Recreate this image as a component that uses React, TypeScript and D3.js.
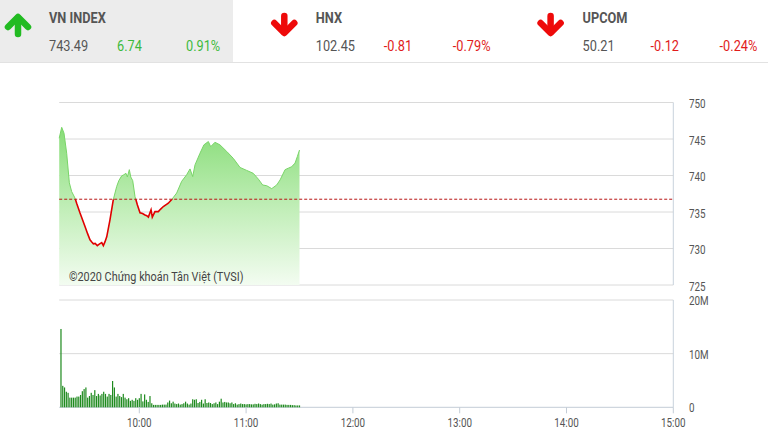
import React from "react";
import * as d3 from "d3";

// ---------- data ----------
const indexNames = ["VN INDEX", "HNX", "UPCOM"];
const indexValues = ["743.49", "102.45", "50.21"];
const indexChanges = ["6.74", "-0.81", "-0.12"];
const indexPercents = ["0.91%", "-0.79%", "-0.24%"];
const indexUp = [true, false, false];

const referencePrice = 736.75;
const priceTicks = [750, 745, 740, 735, 730, 725];
const volumeTicks = [20, 10, 0];
const volumeTickLabels = ["20M", "10M", "0"];
const timeTickLabels = ["10:00", "11:00", "12:00", "13:00", "14:00", "15:00"];
const sessionStart = "09:15";
const sessionEnd = "15:00";
const watermark = "©2020 Chứng khoán Tân Việt (TVSI)";

// minutes after 09:15
const priceMinutes = [
  0, 1.4, 2.7, 4.2, 5.7, 7, 8.9, 9.8, 11.7, 13, 14.5, 16, 17.3, 18.3, 19.2, 20.2, 21.4, 22.5, 23.9,
  24.8, 25.7, 26.7, 28.5, 30.4, 32.3, 33.5, 35.1, 36.3, 37.5, 38.3, 39.4, 40.2, 41.3, 42.6, 43.9,
  45.4, 46.8, 48.2, 49.2, 50.1, 51.6, 52.3, 53.8, 55.7, 57, 58.5, 61.3, 63.2, 66, 68.8, 71.6, 73.5,
  75, 76.3, 79.1, 81.3, 83.8, 85.1, 87.5, 90.3, 94.1, 97.8, 101.6, 105.3, 109, 111.9, 114.3, 116.6,
  119.4, 122.2, 124.1, 126.9, 128.7, 130.6, 132.5, 133.8, 135,
];
const priceValues = [
  745.1, 746.6, 745.8, 743.05, 739.0, 737.8, 736.9, 736.2, 734.85, 734.0, 733.0, 732.0, 731.2, 730.9,
  730.65, 730.7, 730.4, 730.6, 730.8, 730.4, 730.9, 731.6, 733.9, 736.7, 738.5, 739.3, 739.95, 740.1,
  740.3, 739.8, 740.8, 739.8, 739.3, 737.1, 736.0, 734.9, 734.8, 734.6, 734.5, 734.3, 735.3, 734.3,
  735.05, 735.05, 735.4, 735.75, 736.2, 736.7, 737.6, 739.2, 740.1, 740.9, 739.85, 741.45, 743.05,
  744.2, 744.65, 743.95, 744.55, 744.2, 743.3, 742.35, 741.1, 740.7, 740.3, 739.5, 738.7, 738.6,
  738.2, 738.7, 739.4, 740.8, 741.0, 741.2, 741.7, 742.6, 743.49,
];

// volume in millions, one bar per minute starting 09:16
const volumeValues = [
  14.6, 4.0, 3.7, 2.9, 2.7, 1.8, 1.8, 1.8, 1.8, 2.0, 2.0, 2.3, 3.0, 3.4, 3.7, 1.8, 2.1, 2.7, 2.3, 3.2,
  2.1, 2.5, 2.2, 2.5, 2.9, 2.5, 2.0, 2.5, 2.3, 4.9, 3.7, 2.0, 2.5, 2.1, 1.9, 2.5, 1.8, 1.5, 1.7, 1.2,
  1.4, 1.2, 1.7, 1.4, 1.7, 2.5, 1.1, 2.4, 1.4, 1.0, 2.1, 0.75, 0.45, 0.45, 0.45, 0.45, 0.45, 0.5, 0.5,
  0.5, 0.9, 1.25, 0.75, 1.05, 0.7, 0.6, 0.7, 0.5, 0.6, 0.75, 1.05, 0.7, 0.5, 0.7, 1.5, 1.4, 1.5, 0.8,
  1.0, 1.4, 0.7, 1.5, 0.8, 0.9, 0.8, 0.6, 0.75, 0.9, 0.6, 1.05, 1.6, 0.9, 1.0, 0.9, 0.9, 0.75, 0.9,
  0.6, 0.75, 0.5, 0.6, 0.7, 0.6, 0.6, 0.55, 0.6, 0.6, 0.55, 0.55, 0.65, 0.6, 0.7, 0.6, 0.5, 0.6, 0.6,
  0.65, 0.6, 0.7, 0.5, 0.55, 0.7, 0.75, 0.5, 0.5, 0.5, 0.5, 0.45, 0.45, 0.45, 0.4, 0.4, 0.35, 0.35,
  0.35,
];

// ---------- helpers ----------
const toMin = (s: string) => {
  const [h, m] = s.split(":").map(Number);
  return h * 60 + m;
};
const startMin = toMin(sessionStart);

const FONT = "Roboto, 'Noto Sans', sans-serif";
const GREEN = "#3cba3c";
const RED = "#e11b1b";
const GRAY = "#555";

function CText(props: {
  x: number;
  y: number;
  size: number;
  fill: string;
  weight?: number | string;
  anchor?: string;
  sx?: number;
  children: React.ReactNode;
}) {
  const sx = props.sx ?? 0.85;
  return (
    <text
      transform={`translate(${props.x},${props.y}) scale(${sx},1)`}
      fontFamily={FONT}
      fontSize={props.size}
      fontWeight={props.weight ?? 400}
      fill={props.fill}
      textAnchor={props.anchor ?? "start"}
    >
      {props.children}
    </text>
  );
}

export default function App() {
  const W = 768;
  const H = 437;

  const x = d3
    .scaleLinear()
    .domain([0, toMin(sessionEnd) - startMin])
    .range([59.2, 673.3]);
  const yP = d3.scaleLinear().domain([725, 750]).range([285, 102.5]);
  const yV = d3.scaleLinear().domain([0, 20]).range([407.3, 300]);

  const pts: [number, number][] = priceMinutes.map((m, i) => [m, priceValues[i]]);
  const lineGen = d3
    .line<[number, number]>()
    .x((d) => x(d[0]))
    .y((d) => yP(d[1]));
  const areaGen = d3
    .area<[number, number]>()
    .x((d) => x(d[0]))
    .y0(yP(725))
    .y1((d) => yP(d[1]));

  const refY = yP(referencePrice);
  const left = x(0);
  const right = x(toMin(sessionEnd) - startMin);

  return (
    <div style={{ position: "fixed", left: 0, top: 0, width: W, height: H, background: "#fff" }}>
      <svg width={W} height={H} style={{ display: "block" }}>
        <defs>
          <linearGradient id="areaGrad" gradientUnits="userSpaceOnUse" x1="0" y1={yP(747)} x2="0" y2={yP(725)}>
            <stop offset="0" stopColor="#86dc76" />
            <stop offset="0.55" stopColor="#c4efbb" />
            <stop offset="1" stopColor="#f3fcf1" />
          </linearGradient>
          <clipPath id="aboveRef">
            <rect x={0} y={0} width={W} height={refY} />
          </clipPath>
          <clipPath id="belowRef">
            <rect x={0} y={refY} width={W} height={H - refY} />
          </clipPath>
        </defs>

        {/* header */}
        <rect x={0} y={0} width={233} height={62} fill="#ececec" />
        <line x1={0} x2={W} y1={62.5} y2={62.5} stroke="#e2e2e2" />
        {indexNames.map((name, i) => {
          const bx = 49 + i * 266.8;
          const ax = 18 + i * 266.3;
          const up = indexUp[i];
          const col = up ? GREEN : RED;
          const arrowCol = up ? "#22bb22" : "#ee0a0a";
          return (
            <g key={name}>
              {up ? (
                <g stroke={arrowCol} strokeWidth={6.5} strokeLinecap="round" strokeLinejoin="round" fill="none">
                  <path d={`M${ax - 10},${27} L${ax},${17} L${ax + 10},${27}`} />
                  <path d={`M${ax},${18} L${ax},${34}`} />
                </g>
              ) : (
                <g stroke={arrowCol} strokeWidth={6.5} strokeLinecap="round" strokeLinejoin="round" fill="none">
                  <path d={`M${ax - 10},${23} L${ax},${33} L${ax + 10},${23}`} />
                  <path d={`M${ax},${16} L${ax},${32}`} />
                </g>
              )}
              <CText x={bx} y={22.5} size={15} fill={GRAY} weight={700}>
                {name}
              </CText>
              <CText x={bx} y={50.5} size={15} fill={GRAY}>
                {indexValues[i]}
              </CText>
              <CText x={bx + 68} y={50.5} size={15} fill={col}>
                {indexChanges[i]}
              </CText>
              <CText x={bx + 137} y={50.5} size={15} fill={col}>
                {indexPercents[i]}
              </CText>
            </g>
          );
        })}

        {/* price chart grid */}
        {priceTicks.map((t) => (
          <g key={t}>
            <line x1={left} x2={right} y1={yP(t)} y2={yP(t)} stroke="#dadada" />
            <CText x={689} y={yP(t) + 5.5} size={12} fill={GRAY} sx={0.82}>
              {t}
            </CText>
          </g>
        ))}
        <line x1={right} x2={right} y1={yP(750)} y2={yP(725)} stroke="#c9d3dd" />

        {/* price area and line */}
        <path d={areaGen(pts) ?? ""} fill="url(#areaGrad)" />
        <path d={lineGen(pts) ?? ""} fill="none" stroke="#79d468" strokeWidth={1} clipPath="url(#aboveRef)" />
        <path d={lineGen(pts) ?? ""} fill="none" stroke="#e00000" strokeWidth={1.6} clipPath="url(#belowRef)" />
        <line
          x1={left}
          x2={right}
          y1={refY}
          y2={refY}
          stroke="#b81414"
          strokeWidth={1}
          strokeDasharray="3,2"
        />
        <CText x={69} y={281} size={13} fill="#444" sx={0.835}>
          {watermark}
        </CText>

        {/* volume chart */}
        {volumeTicks.map((t, i) => (
          <g key={t}>
            <line
              x1={left}
              x2={right}
              y1={yV(t)}
              y2={yV(t)}
              stroke={t === 0 ? "#c3ccd6" : "#dadada"}
            />
            <CText x={689} y={yV(t) + 5} size={12} fill={GRAY} sx={0.82}>
              {volumeTickLabels[i]}
            </CText>
          </g>
        ))}
        <line x1={right} x2={right} y1={yV(20)} y2={yV(0)} stroke="#c9d3dd" />
        {volumeValues.map((v, i) => {
          const bx = x(i + 1);
          return (
            <rect
              key={i}
              x={bx - 0.6}
              y={yV(v)}
              width={1.2}
              height={yV(0) - yV(v)}
              fill="#1e8a1e"
            />
          );
        })}

        {/* time axis */}
        {timeTickLabels.map((lbl) => {
          const tx = x(toMin(lbl) - startMin);
          return (
            <g key={lbl}>
              <line x1={tx} x2={tx} y1={yV(0)} y2={yV(0) + 6} stroke="#c3ccd6" />
              <CText x={tx} y={427} size={12} fill={GRAY} anchor="middle" sx={0.82}>
                {lbl}
              </CText>
            </g>
          );
        })}
      </svg>
    </div>
  );
}
